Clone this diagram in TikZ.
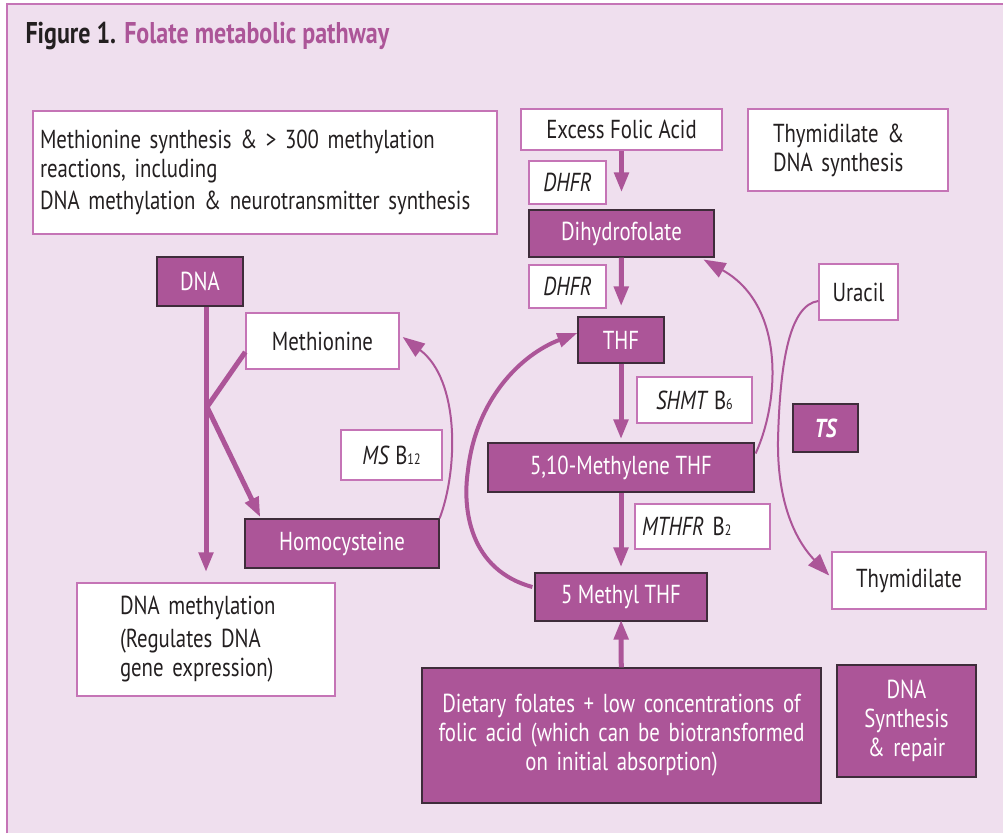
\documentclass[tikz,border=0pt]{standalone}
\usepackage{fontspec}
\setmainfont[FakeStretch=0.8]{PT Sans}
\usetikzlibrary{arrows.meta, calc}

\definecolor{folate}{RGB}{172,85,152}
\definecolor{panel}{RGB}{239,223,238}
\definecolor{rim}{RGB}{197,116,182}
\definecolor{edge}{RGB}{62,44,58}
\definecolor{ink}{RGB}{35,31,32}

\tikzset{
  lightbox/.style={draw=rim, fill=white, line width=1.5pt, text=ink, inner sep=0pt},
  darkbox/.style={draw=edge, fill=folate, line width=1.2pt, text=white, inner sep=0pt},
  fat arrow/.style={-{Triangle[length=20pt,width=14pt]}, draw=folate, line width=5pt},
  thin arrow/.style={-{Triangle[length=22pt,width=16pt]}, draw=folate, line width=2pt},
}

\begin{document}
\begin{tikzpicture}[x=1pt, y=-1pt, every node/.style={font=\fontsize{26}{29}\selectfont}]
  \useasboundingbox (0,0) rectangle (1003,833);
  \fill[white] (0,0) rectangle (1003,833);
  \fill[panel] (7,4) rectangle (1003,833);
  \draw[rim, line width=2pt] (7,833) -- (7,4) -- (1003,4);

  \node[anchor=base west, font=\fontsize{30}{32}\selectfont\bfseries] (title) at (22,43)
    {\color{ink}Figure 1. \color{folate}Folate metabolic pathway};

  % left side
  \node[lightbox, minimum width=464pt, minimum height=123pt, text width=450pt, align=left] (msyn) at (265,172.5)
    {Methionine synthesis \& > 300 methylation\\ reactions, including\\[3pt] DNA methylation \& neurotransmitter synthesis};
  \node[darkbox, minimum width=86pt, minimum height=49pt] (dna) at (200,281.5) {DNA};
  \node[lightbox, minimum width=153pt, minimum height=56pt] (met) at (322.5,341) {Methionine};
  \node[lightbox, minimum width=101pt, minimum height=50pt] (ms) at (391.5,455) {\textit{MS} B{\fontsize{15}{15}\selectfont 12}};
  \node[darkbox, minimum width=194pt, minimum height=49pt] (hcy) at (342,543.5) {Homocysteine};
  \node[lightbox, minimum width=258pt, minimum height=113pt, text width=172pt, align=left] (dnameth) at (206,639.5)
    {DNA methylation\\[4pt] (Regulates DNA\\ gene expression)};

  % folate cycle
  \node[lightbox, minimum width=201pt, minimum height=41pt] (excess) at (621.5,129.5) {Excess Folic Acid};
  \node[lightbox, minimum width=77pt, minimum height=43pt] (dhfra) at (567.5,182.5) {\textit{DHFR}};
  \node[darkbox, minimum width=185pt, minimum height=47pt] (dhf) at (621.5,233.5) {Dihydrofolate};
  \node[lightbox, minimum width=77pt, minimum height=43pt] (dhfrb) at (567.5,286.5) {\textit{DHFR}};
  \node[darkbox, minimum width=86pt, minimum height=46pt] (thf) at (621,340) {THF};
  \node[lightbox, minimum width=115pt, minimum height=46pt] (shmt) at (694.5,400) {\textit{SHMT} B{\fontsize{15}{15}\selectfont 6}};
  \node[darkbox, minimum width=266pt, minimum height=49pt] (mthf) at (621,467.5) {5,10-Methylene THF};
  \node[lightbox, minimum width=135pt, minimum height=45pt, text width=121pt, align=left] (mthfr) at (702.5,526.5)
    {\textit{MTHFR} B{\fontsize{15}{15}\selectfont 2}};
  \node[darkbox, minimum width=172pt, minimum height=48pt] (methyl) at (621,597) {5 Methyl THF};
  \node[darkbox, minimum width=399pt, minimum height=135pt, text width=385pt, align=center] (diet) at (621.5,735.5)
    {Dietary folates + low concentrations of\\ folic acid (which can be biotransformed\\ on initial absorption)};

  % right side
  \node[lightbox, minimum width=200pt, minimum height=82pt, text width=150pt, align=left] (tsyn) at (848,150)
    {Thymidilate \&\\ DNA synthesis};
  \node[lightbox, minimum width=79pt, minimum height=56pt] (uracil) at (858.5,292) {Uracil};
  \node[darkbox, minimum width=65pt, minimum height=48pt] (ts) at (825.5,428) {\bfseries\itshape TS};
  \node[lightbox, minimum width=154pt, minimum height=57pt] (thym) at (909,580.5) {Thymidilate};
  \node[darkbox, minimum width=139pt, minimum height=112pt, text width=125pt, align=center] (repair) at (906.5,721)
    {DNA\\ Synthesis\\ \& repair};

  % Edges
  \coordinate (fork) at (207,407);
  \draw[fat arrow, shorten >=17pt] (excess) -- (dhf);
  \draw[fat arrow, shorten >=10pt] (dhf) -- (thf);
  \draw[fat arrow, shorten >=3pt] (thf) -- (mthf);
  \draw[fat arrow, shorten >=5pt] (mthf) -- (methyl);
  \draw[fat arrow, shorten >=-2pt] (diet) -- (methyl);
  \draw[fat arrow, shorten >=10pt] (dna.south -| dnameth.north) -- (dnameth.north);
  \draw[draw=folate, line width=5pt] ($(met.west)+(0,11)$) -- (fork);
  \draw[fat arrow] (fork) -- ($(hcy.north west)+(16,-1)$);
  \draw[thin arrow] (hcy.north east) .. controls (458,470) and (460,380) .. ($(met.east)+(3,-4)$);
  \draw[fat arrow, line width=4pt] ($(methyl.west)+(-2,-10)$) .. controls (470,570) and (462,510) .. (468,470)
    .. controls (476,400) and (520,355) .. ($(thf.west)+(0,-7)$);
  \draw[thin arrow] ($(mthf.east)+(1,-14)$) .. controls (780,400) and (785,305) .. ($(dhf.south east)+(-11,2)$);
  \draw[thin arrow] ($(uracil.west)+(0,9)$) .. controls (790,305) and (780,360) .. (778,440)
    .. controls (777,510) and (800,545) .. ($(thym.west)+(-2,-5)$);
\end{tikzpicture}
\end{document}
